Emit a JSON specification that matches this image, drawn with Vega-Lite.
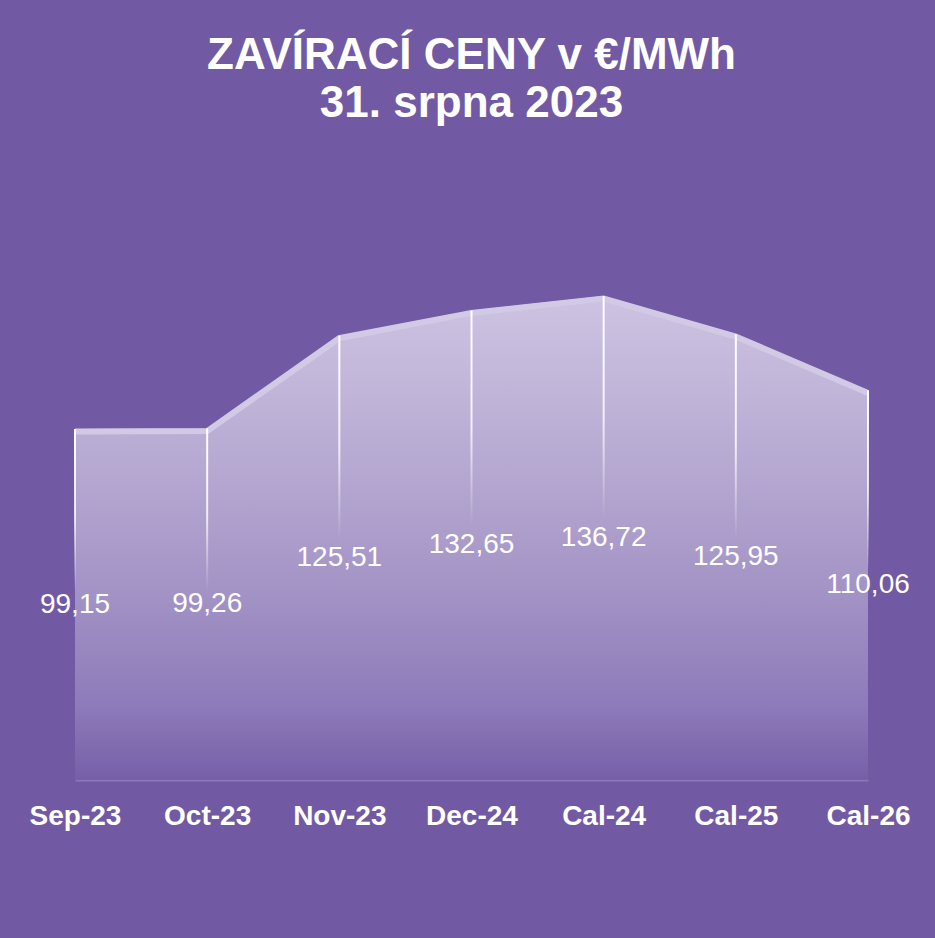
{
  "$schema": "https://vega.github.io/schema/vega-lite/v6.json",
  "autosize": {"type": "none"},
  "width": 793,
  "height": 531,
  "padding": {"left": 75, "right": 67, "top": 249, "bottom": 158},
  "background": "#715AA3",
  "title": {
    "text": ["ZAVÍRACÍ CENY v €/MWh", "31. srpna 2023"],
    "color": "#FFFFFF",
    "font": "Liberation Sans",
    "fontSize": 44,
    "fontWeight": "bold",
    "anchor": "middle",
    "lineHeight": 48,
    "offset": 123
  },
  "config": {
    "view": {"stroke": null},
    "locale": {"number": {"decimal": ",", "thousands": " ", "grouping": [3], "currency": ["", " €"]}}
  },
  "data": {
    "values": [
      {"k": "Sep-23", "v": 99.15},
      {"k": "Oct-23", "v": 99.26},
      {"k": "Nov-23", "v": 125.51},
      {"k": "Dec-24", "v": 132.65},
      {"k": "Cal-24", "v": 136.72},
      {"k": "Cal-25", "v": 125.95},
      {"k": "Cal-26", "v": 110.06}
    ]
  },
  "encoding": {
    "x": {
      "field": "k",
      "type": "nominal",
      "sort": null,
      "scale": {"type": "point", "padding": 0},
      "axis": {
        "title": null,
        "labelAngle": 0,
        "labelColor": "#FFFFFF",
        "labelFont": "Liberation Sans",
        "labelFontSize": 28,
        "labelFontWeight": "bold",
        "labelPadding": 22,
        "ticks": false,
        "tickSize": 0,
        "domainColor": "#8C79BA",
        "domainWidth": 2,
        "grid": false
      }
    }
  },
  "layer": [
    {
      "mark": {
        "type": "area",
        "interpolate": "linear",
        "fill": {
          "gradient": "linear",
          "x1": 0, "y1": 0, "x2": 0, "y2": 1,
          "stops": [
            {"offset": 0, "color": "#CDC3E1"},
            {"offset": 0.3, "color": "#BAADD4"},
            {"offset": 0.6, "color": "#A494C6"},
            {"offset": 0.85, "color": "#8D7AB9"},
            {"offset": 1, "color": "#765FA8"}
          ]
        }
      },
      "encoding": {
        "y": {"field": "v", "type": "quantitative", "scale": {"domain": [0, 150]}, "axis": null}
      }
    },
    {
      "mark": {"type": "line", "stroke": "#D2C9E5", "strokeWidth": 6, "yOffset": 2.5},
      "encoding": {
        "y": {"field": "v", "type": "quantitative", "scale": {"domain": [0, 150]}, "axis": null}
      }
    },
    {
      "mark": {
        "type": "bar",
        "size": 2,
        "fill": {
          "gradient": "linear",
          "x1": 0, "y1": 0, "x2": 0, "y2": 1,
          "stops": [
            {"offset": 0, "color": "rgba(255,255,255,1)"},
            {"offset": 0.25, "color": "rgba(255,255,255,0.8)"},
            {"offset": 0.46, "color": "rgba(255,255,255,0)"},
            {"offset": 1, "color": "rgba(255,255,255,0)"}
          ]
        }
      },
      "encoding": {
        "y": {"field": "v", "type": "quantitative", "scale": {"domain": [0, 150]}, "axis": null}
      }
    },
    {
      "mark": {"type": "text", "color": "#FFFFFF", "font": "Liberation Sans", "fontSize": 28, "baseline": "middle", "align": "center"},
      "encoding": {
        "y": {"field": "v", "type": "quantitative", "scale": {"domain": [0, 300]}, "axis": null},
        "text": {"field": "v", "type": "quantitative", "format": ".2f"}
      }
    }
  ],
  "resolve": {"scale": {"y": "independent"}}
}
